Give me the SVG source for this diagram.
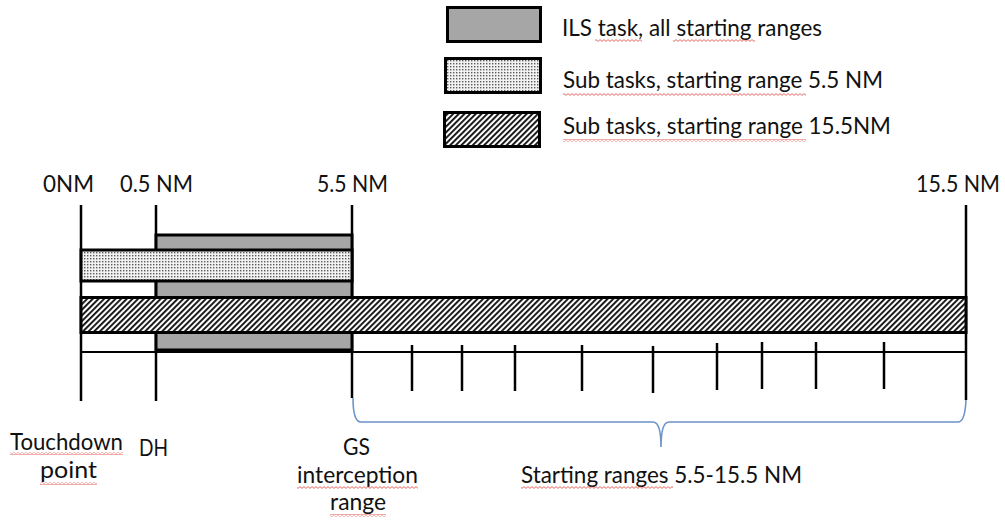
<svg xmlns="http://www.w3.org/2000/svg" width="1005" height="522" viewBox="0 0 1005 522">
  <defs>
    <pattern id="dots" patternUnits="userSpaceOnUse" width="3" height="3">
      <rect width="3" height="3" fill="#f2f2f2"/>
      <rect x="0" y="0" width="1.4" height="1.4" fill="#5a5a5a"/>
    </pattern>
    <pattern id="hatch" patternUnits="userSpaceOnUse" width="4" height="4" patternTransform="rotate(45)">
      <rect width="4" height="4" fill="#ffffff"/>
      <rect x="0" y="0" width="1.9" height="4" fill="#111"/>
    </pattern>
    <pattern id="sq" patternUnits="userSpaceOnUse" width="4" height="3">
      <path d="M0,0.6 L2,2.4 L4,0.6" fill="none" stroke="#e0403a" stroke-width="0.8"/>
    </pattern>
  </defs>
  <style>
    .t { font-family: Lato, "Liberation Sans", sans-serif; font-size: 23px; fill: #111; }
    .box { stroke: #000; stroke-width: 3; }
    .ln { stroke: #000; stroke-width: 2.5; fill: none; }
    .axis { stroke: #000; stroke-width: 2; fill: none; }
    .tick { stroke: #000; stroke-width: 2.5; }
    .brace { stroke: #6c94c8; stroke-width: 1.6; fill: none; }
    .sq { fill: url(#sq); }
  </style>

  <g id="connectors">
    <line class="ln" x1="81" y1="205" x2="81" y2="401"/>
    <line class="ln" x1="156" y1="205" x2="156" y2="401"/>
    <line class="ln" x1="352" y1="205" x2="352" y2="398"/>
    <line class="ln" x1="966" y1="205" x2="966" y2="400"/>
    <line class="axis" x1="81" y1="352" x2="966" y2="352"/>
    <line class="tick" x1="412" y1="345" x2="412" y2="391"/>
    <line class="tick" x1="462" y1="345" x2="462" y2="391"/>
    <line class="tick" x1="515" y1="345" x2="515" y2="391"/>
    <line class="tick" x1="582" y1="345" x2="582" y2="391"/>
    <line class="tick" x1="653" y1="346" x2="653" y2="393"/>
    <line class="tick" x1="717" y1="343" x2="717" y2="390"/>
    <line class="tick" x1="762" y1="342" x2="762" y2="389"/>
    <line class="tick" x1="816" y1="342" x2="816" y2="389"/>
    <line class="tick" x1="884" y1="342" x2="884" y2="389"/>
    <path class="brace" d="M353,398 Q353,422 361,422 L653,422 Q661,422 661,447 Q661,422 669,422 L958,422 Q965,422 966,400"/>
  </g>

  <g id="legend">
    <g id="legend-ils">
      <rect class="box" x="447.5" y="7.5" width="93" height="34" fill="#a6a6a6"/>
      <text class="t" x="562" y="36" textLength="260" lengthAdjust="spacingAndGlyphs">ILS task, all starting ranges</text>
      <rect class="sq" x="595" y="39" width="47" height="3"/>
      <rect class="sq" x="673" y="39" width="82" height="3"/>
    </g>
    <g id="legend-sub55">
      <rect class="box" x="445.5" y="58.5" width="95" height="34" fill="url(#dots)"/>
      <text class="t" x="563" y="88" textLength="320" lengthAdjust="spacingAndGlyphs">Sub tasks, starting range 5.5 NM</text>
      <rect class="sq" x="563" y="93" width="243" height="3"/>
    </g>
    <g id="legend-sub155">
      <rect class="box" x="444.5" y="112.5" width="95" height="34" fill="url(#hatch)"/>
      <text class="t" x="563" y="134" textLength="328" lengthAdjust="spacingAndGlyphs">Sub tasks, starting range 15.5NM</text>
      <rect class="sq" x="563" y="139" width="243" height="3"/>
    </g>
  </g>

  <g id="bars">
    <rect id="bar-ils" class="box" x="156" y="235" width="196" height="115" fill="#a6a6a6"/>
    <rect id="bar-sub55" class="box" x="81" y="250" width="271" height="31" fill="url(#dots)"/>
    <rect id="bar-sub155" class="box" x="81" y="297.5" width="885" height="35" fill="url(#hatch)"/>
  </g>

  <g id="axis-labels">
    <text class="t" x="43" y="192" textLength="51" lengthAdjust="spacingAndGlyphs">0NM</text>
    <text class="t" x="120" y="192" textLength="73" lengthAdjust="spacingAndGlyphs">0.5 NM</text>
    <text class="t" x="317" y="192" textLength="71" lengthAdjust="spacingAndGlyphs">5.5 NM</text>
    <text class="t" x="916" y="192" textLength="84" lengthAdjust="spacingAndGlyphs">15.5 NM</text>
  </g>

  <g id="touchdown">
    <text class="t" x="10" y="450" textLength="113" lengthAdjust="spacingAndGlyphs">Touchdown</text>
    <text class="t" x="40" y="478" textLength="57" lengthAdjust="spacingAndGlyphs">point</text>
    <rect class="sq" x="10" y="452" width="113" height="3"/>
    <rect class="sq" x="40" y="482" width="57" height="3"/>
  </g>
  <g id="dh">
    <text class="t" x="139" y="456" textLength="29" lengthAdjust="spacingAndGlyphs">DH</text>
  </g>
  <g id="gs">
    <text class="t" x="343" y="455" textLength="27" lengthAdjust="spacingAndGlyphs">GS</text>
    <text class="t" x="297" y="483" textLength="121" lengthAdjust="spacingAndGlyphs">interception</text>
    <text class="t" x="330" y="510" textLength="56" lengthAdjust="spacingAndGlyphs">range</text>
    <rect class="sq" x="297" y="486" width="121" height="3"/>
    <rect class="sq" x="330" y="514" width="56" height="3"/>
  </g>
  <g id="starting">
    <text class="t" x="521" y="483" textLength="281" lengthAdjust="spacingAndGlyphs">Starting ranges 5.5-15.5 NM</text>
    <rect class="sq" x="521" y="486" width="152" height="3"/>
  </g>
</svg>
